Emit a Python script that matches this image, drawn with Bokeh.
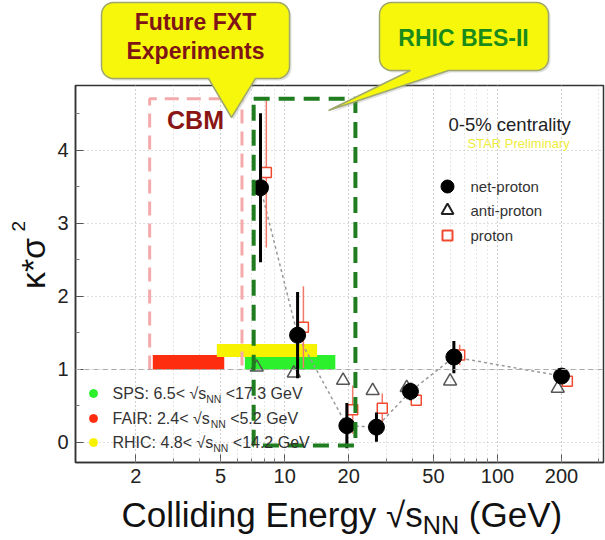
import math
import numpy as np
from bokeh.plotting import figure
from bokeh.models import Range1d, FixedTicker, Span
from bokeh.core.properties import value
from bokeh.embed import file_html
from bokeh.resources import INLINE

# ---------------- data ----------------
energies = [7.7, 11.5, 19.6, 27, 39, 62.4, 200]          # sqrt(s_NN) in GeV
net_proton = [3.49, 1.47, 0.23, 0.21, 0.70, 1.17, 0.91]
net_proton_err = [1.02, 0.59, 0.31, 0.20, 0.12, 0.22, 0.07]
anti_proton = [1.03, 0.95, 0.85, 0.71, 0.75, 0.84, 0.74]
proton = [3.70, 1.58, 0.45, 0.47, 0.58, 1.20, 0.84]
proton_err = [1.03, 0.56, 0.33, 0.20, 0.08, 0.14, 0.06]

facility_names = ["SPS", "FAIR", "RHIC"]
facility_low = [6.5, 2.4, 4.8]
facility_high = [17.3, 5.2, 14.2]
facility_colors = ["#2bf02b", "#ff2d10", "#f7f300"]
facility_bottom = [1.0, 1.0, 1.17]
facility_top = [1.20, 1.20, 1.35]

cbm_energy = [2.32, 6.3]
cbm_kappa = [1.0, 4.71]
bes2_energy = [7.15, 21.5]
bes2_kappa = [-0.04, 4.71]

x_ticks = [2, 5, 10, 20, 50, 100, 200]
x_tick_labels = ["2", "5", "10", "20", "50", "100", "200"]
y_ticks = [0, 1, 2, 3, 4]

# ---------------- layout ----------------
W, H = 605, 540
L, R, T, B = 75, 2, 85, 78
X0, X1 = 1.04, 315.0
Y0, Y1 = -0.274, 4.89
FONT = "Liberation Sans"
MID = 0.35   # distance from baseline to the middle of the em box, in em

WIDTHS = {' ': 278, '(': 333, ')': 333, '*': 389, '-': 333, '.': 278, ':': 278,
          '<': 584, '%': 889, '√': 549, 'A': 667, 'B': 667, 'C': 722, 'E': 667,
          'F': 611, 'G': 778, 'H': 722, 'I': 278, 'N': 722, 'P': 667, 'R': 722,
          'S': 667, 'V': 667, 'a': 556, 'c': 500, 'd': 556, 'e': 556, 'g': 556,
          'i': 222, 'l': 222, 'n': 556, 'o': 556, 'r': 333, 's': 500, 't': 278,
          'y': 500}


def text_width(s, size):
    return sum(WIDTHS.get(ch, 556) for ch in s) * size / 1000.0


# ---------------- main plot ----------------
p = figure(width=W, height=H, x_axis_type="log",
           x_range=Range1d(X0, X1), y_range=Range1d(Y0, Y1),
           output_backend="svg", toolbar_location=None,
           min_border_left=L, min_border_right=R, min_border_top=T, min_border_bottom=B)
p.background_fill_color = "white"
p.border_fill_color = "white"
p.outline_line_color = "#333333"
p.outline_line_width = 1.5

minor_x = [m * 10 ** d for d in range(0, 3) for m in range(1, 10)]
p.xaxis.ticker = FixedTicker(ticks=x_ticks, minor_ticks=minor_x)
p.xaxis.major_label_overrides = {t: lab for t, lab in zip(x_ticks, x_tick_labels)}
p.yaxis.ticker = FixedTicker(ticks=y_ticks, minor_ticks=[v + 0.5 for v in y_ticks])
for ax in (p.xaxis[0], p.yaxis[0]):
    ax.axis_line_color = "#333333"
    ax.axis_line_width = 1.5
    ax.major_tick_in = 8
    ax.major_tick_out = 0
    ax.minor_tick_in = 4
    ax.minor_tick_out = 0
    ax.major_tick_line_color = "#555555"
    ax.minor_tick_line_color = "#777777"
    ax.major_label_text_font = FONT
    ax.major_label_text_font_size = "20px"
    ax.major_label_text_color = "#222222"
p.xaxis.major_label_standoff = 6
p.yaxis.major_label_standoff = 7

for g in (p.xgrid[0], p.ygrid[0]):
    g.grid_line_color = "#bbbbbb"
    g.grid_line_dash = "1 3"
    g.grid_line_width = 1
p.xgrid.minor_grid_line_color = "#cccccc"
p.xgrid.minor_grid_line_dash = "1 3"
p.add_layout(Span(location=1, dimension="width", line_color="#aaaaaa",
                  line_dash="5 4", line_width=1.2))

# facility energy ranges
p.quad(left=facility_low, right=facility_high, bottom=facility_bottom, top=facility_top,
       fill_color=facility_colors, line_color=None)

# CBM region (open at the bottom, where it meets the range bars)
p.line(x=[cbm_energy[0], cbm_energy[0], cbm_energy[1], cbm_energy[1]],
       y=[cbm_kappa[0], cbm_kappa[1], cbm_kappa[1], cbm_kappa[0]],
       line_color="#f4aaaa", line_width=3, line_dash="14 8")

# measurements
e = np.array(energies)
npv, npe = np.array(net_proton), np.array(net_proton_err)
pv, pe = np.array(proton), np.array(proton_err)
prot_x = e * 1.065
anti_x = e * 0.96

p.line(x=energies, y=net_proton, line_color="#999999", line_dash="3 3", line_width=1.5)
p.segment(x0=prot_x, y0=pv - pe, x1=prot_x, y1=pv + pe, line_color="#f27a6a", line_width=1.5)
p.scatter(x=prot_x, y=proton, marker="square", size=10, fill_color="white",
          line_color="#ef4a30", line_width=1.5)
p.scatter(x=anti_x, y=anti_proton, marker="triangle", size=13, fill_color=None,
          line_color="#555555", line_width=1.5)
p.segment(x0=e, y0=npv - npe, x1=e, y1=npv + npe, line_color="black", line_width=3)
p.scatter(x=energies, y=net_proton, marker="circle", size=16, color="black")

# BES-II region
p.quad(left=bes2_energy[0], right=bes2_energy[1], bottom=bes2_kappa[0], top=bes2_kappa[1],
       fill_color=None, line_color="#1f7d1f", line_width=4, line_dash="16 9")

# ---------------- annotation layer (pixel coordinates, drawn over the plot) ----------------
ov = figure(width=W, height=H, x_range=Range1d(0, W), y_range=Range1d(H, 0),
            x_axis_type=None, y_axis_type=None, output_backend="svg",
            toolbar_location=None, min_border=0)
ov.background_fill_alpha = 0
ov.border_fill_alpha = 0
ov.outline_line_color = None
ov.margin = (-H, 0, 0, 0)


def add_text(px, py, text, size, color, align="left", bold=False, angle=0.0):
    ov.text(x=[px], y=[py], text=[text], text_font=value(FONT), text_font_size=f"{size}px",
            text_color=color, text_align=align, text_baseline="middle",
            text_font_style="bold" if bold else "normal", angle=angle)


def rich_text(px, baseline, parts, size, color):
    """parts: (text, scale, dy) pieces laid out left to right, dy relative to the baseline."""
    x = px
    for txt, scale, dy in parts:
        fs = size * scale
        lead = len(txt) - len(txt.lstrip(" "))
        x += text_width(" " * lead, fs)
        body = txt.strip(" ")
        add_text(x, baseline + dy - MID * fs, body, round(fs, 1), color)
        x += text_width(body, fs)


def callout(x0, y0, x1, y1, r, base_a, base_b, tip):
    pts = []

    def arc(cx, cy, a0, a1):
        for t in np.linspace(a0, a1, 8):
            pts.append((cx + r * math.cos(t), cy + r * math.sin(t)))

    arc(x0 + r, y0 + r, math.pi, 1.5 * math.pi)
    arc(x1 - r, y0 + r, 1.5 * math.pi, 2 * math.pi)
    arc(x1 - r, y1 - r, 0, 0.5 * math.pi)
    pts += [(base_b, y1), tip, (base_a, y1)]
    arc(x0 + r, y1 - r, 0.5 * math.pi, math.pi)
    xs = [a for a, _ in pts]
    ys = [b for _, b in pts]
    ov.patch(x=[a + 2 for a in xs], y=[b + 2 for b in ys], fill_color="#888888",
             fill_alpha=0.25, line_color=None)
    ov.patch(x=xs, y=ys, fill_color="#f7f70c", line_color="#9fa86c", line_width=1.5)


# axis titles (the y title reads bottom to top; its baseline is on the right)
add_text(44 - MID * 34, 263, "κ*σ", 34, "#111111", align="center", angle=math.pi / 2)
add_text(25 - MID * 19, 231, "2", 19, "#111111", align="left", angle=math.pi / 2)
rich_text(121, 526, [("Colliding Energy √s", 1, 0), ("NN", 0.72, 7), (" (GeV)", 1, 0)],
          35, "#111111")

# in-plot notes
add_text(195, 119, "CBM", 25, "#8a1515", align="center", bold=True)
add_text(448, 124, "0-5% centrality", 18.5, "#222222")
add_text(467, 143, "STAR Preliminary", 13, "#f0ec3a")

# series legend
legend_rows = [186, 210, 235]
legend_names = ["net-proton", "anti-proton", "proton"]
ov.scatter(x=[447], y=[legend_rows[0]], marker="circle", size=13, color="black")
ov.scatter(x=[447], y=[legend_rows[1]], marker="triangle", size=12,
           fill_color=None, line_color="#222222", line_width=2)
ov.scatter(x=[447], y=[legend_rows[2]], marker="square", size=10,
           fill_color=None, line_color="#ef4a30", line_width=2)
for row, name in zip(legend_rows, legend_names):
    add_text(470, row, name, 15, "#333333")

# facility legend
facility_rows = [393, 418, 442]
ov.scatter(x=[93] * 3, y=facility_rows, marker="circle", size=8, color=facility_colors)
for row, name, lo, hi in zip(facility_rows, facility_names, facility_low, facility_high):
    rich_text(112, row + 6, [(f"{name}: {lo}< √s", 1, 0), ("NN", 0.65, 4),
                             (f" <{hi} GeV", 1, 0)], 16, "#333333")

# speech-bubble callouts
callout(101, 2, 289, 78, 12, 208, 255, (231, 117))
add_text(195, 21, "Future FXT", 23, "#7f1416", align="center", bold=True)
add_text(195, 50, "Experiments", 23, "#7f1416", align="center", bold=True)

callout(379, 2, 548, 70, 12, 410, 448, (328, 110))
add_text(463, 37, "RHIC BES-II", 23, "#1a8a1a", align="center", bold=True)

open("out.html", "w").write(file_html([p, ov], INLINE))
